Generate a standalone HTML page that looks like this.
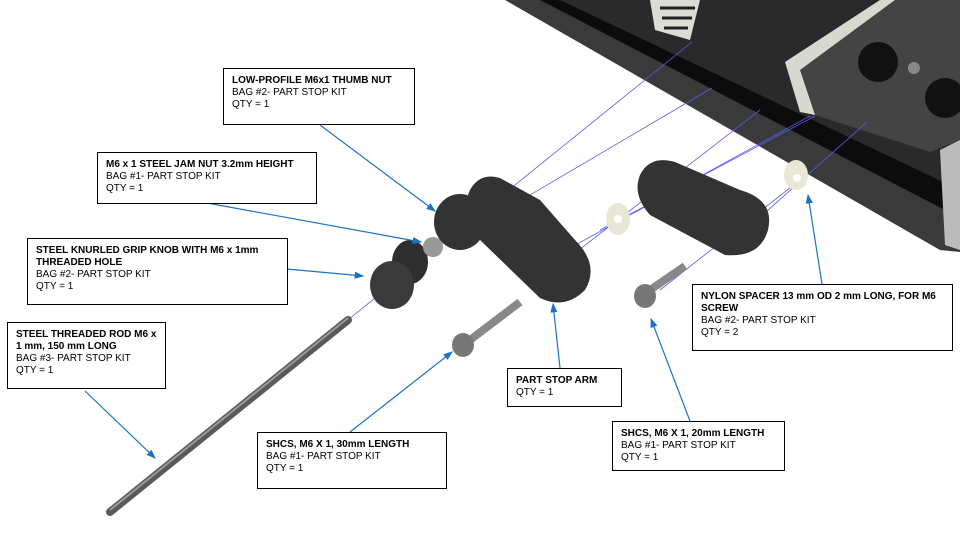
<!DOCTYPE html>
<html><head><meta charset="utf-8"><style>
body{margin:0;width:960px;height:540px;background:#fff;overflow:hidden;font-family:"Liberation Sans",sans-serif}
.b{position:absolute;border:1px solid #000;background:#fff;font-size:10px;line-height:12px;padding:6px 8px;box-sizing:border-box;color:#000}
.b b{font-weight:bold}
</style></head><body>
<svg width="960" height="540" style="position:absolute;left:0;top:0">
<defs><marker id="a" markerWidth="8" markerHeight="8" refX="7" refY="4" orient="auto"><path d="M0,1 L8,4 L0,7z" fill="#1a73c8"/></marker></defs>
<!-- machine -->
<polygon points="505,0 960,0 960,252 940,250 505,0" fill="#3a3a3a"/>
<polygon points="540,0 960,0 960,215 945,210" fill="#0c0c0c"/>
<polygon points="560,0 960,0 960,190 560,0" fill="#2a2a2a"/>
<polygon points="650,0 700,0 690,40 655,30" fill="#dcdcd4"/>
<path d="M660,8 L695,8 M662,18 L692,18 M664,28 L688,28" stroke="#222" stroke-width="3"/>
<polygon points="785,62 880,0 960,0 960,140 930,152 815,115" fill="#444"/>
<polygon points="785,62 880,0 895,0 800,70 815,115 800,112" fill="#d8d8d0"/>
<circle cx="878" cy="62" r="20" fill="#111"/><circle cx="945" cy="98" r="20" fill="#111"/><circle cx="914" cy="68" r="6" fill="#888"/>
<polygon points="940,150 960,140 960,250 945,245" fill="#bbb"/>
<!-- construction lines -->
<g stroke="#5a5af0" stroke-width="0.8">
<line x1="110" y1="512" x2="692" y2="42"/>
<line x1="445" y1="245" x2="712" y2="88"/>
<line x1="540" y1="280" x2="760" y2="110"/>
<line x1="570" y1="248" x2="810" y2="116"/>
<line x1="600" y1="230" x2="815" y2="116"/>
<line x1="740" y1="235" x2="867" y2="122"/>
<line x1="660" y1="290" x2="800" y2="180"/>
</g>
<!-- rod -->
<line x1="110" y1="512" x2="348" y2="320" stroke="#5a5a5a" stroke-width="8" stroke-linecap="round"/>
<line x1="110" y1="510" x2="348" y2="318" stroke="#999" stroke-width="2"/>
<!-- knob -->
<ellipse cx="410" cy="262" rx="18" ry="22" fill="#2e2e2e"/>
<ellipse cx="392" cy="285" rx="22" ry="24" fill="#3a3a3a"/>
<!-- jam nut -->
<ellipse cx="433" cy="247" rx="10" ry="10" fill="#999"/>
<!-- thumb nut -->
<ellipse cx="460" cy="222" rx="26" ry="28" fill="#333"/>
<!-- arm -->
<path d="M470,190 Q480,172 500,178 L540,200 L575,240 Q600,265 585,290 Q565,310 540,298 L480,240 Q460,210 470,190z" fill="#333"/>
<!-- washers -->
<ellipse cx="618" cy="219" rx="12" ry="16" fill="#e8e6d5"/><circle cx="618" cy="219" r="4" fill="#fff"/>
<ellipse cx="796" cy="175" rx="12" ry="15" fill="#e8e6d5"/><circle cx="797" cy="178" r="4" fill="#fff"/>
<!-- second arm -->
<path d="M640,175 Q650,155 675,162 L740,190 Q775,200 768,230 Q760,258 725,255 L650,215 Q632,195 640,175z" fill="#333"/>
<!-- screws -->
<line x1="470" y1="340" x2="520" y2="302" stroke="#888" stroke-width="8"/>
<ellipse cx="463" cy="345" rx="11" ry="12" fill="#777"/>
<line x1="650" y1="290" x2="685" y2="266" stroke="#888" stroke-width="8"/>
<ellipse cx="645" cy="296" rx="11" ry="12" fill="#777"/>
<!-- leaders -->
<g stroke="#1a73c8" stroke-width="1.2" marker-end="url(#a)" fill="none">
<line x1="320" y1="125" x2="435" y2="211"/>
<line x1="207" y1="203" x2="421" y2="242"/>
<line x1="287" y1="269" x2="363" y2="276"/>
<line x1="85" y1="391" x2="155" y2="458"/>
<line x1="350" y1="432" x2="452" y2="352"/>
<line x1="560" y1="368" x2="553" y2="304"/>
<line x1="690" y1="421" x2="651" y2="319"/>
<line x1="822" y1="284" x2="808" y2="195"/>
</g>
</svg>
<div class="b" style="left:223px;top:68px;width:192px;height:57px"><b>LOW-PROFILE M6x1 THUMB NUT</b><br>BAG #2- PART STOP KIT<br>QTY = 1</div>
<div class="b" style="left:97px;top:152px;width:220px;height:52px"><b>M6 x 1 STEEL JAM NUT 3.2mm HEIGHT</b><br>BAG #1- PART STOP KIT<br>QTY = 1</div>
<div class="b" style="left:27px;top:238px;width:261px;height:67px"><b>STEEL KNURLED GRIP KNOB WITH M6 x 1mm THREADED HOLE</b><br>BAG #2- PART STOP KIT<br>QTY = 1</div>
<div class="b" style="left:7px;top:322px;width:159px;height:67px"><b>STEEL THREADED ROD M6 x 1 mm, 150 mm LONG</b><br>BAG #3- PART STOP KIT<br>QTY = 1</div>
<div class="b" style="left:257px;top:432px;width:190px;height:57px"><b>SHCS, M6 X 1, 30mm LENGTH</b><br>BAG #1- PART STOP KIT<br>QTY = 1</div>
<div class="b" style="left:507px;top:368px;width:115px;height:39px"><b>PART STOP ARM</b><br>QTY = 1</div>
<div class="b" style="left:612px;top:421px;width:173px;height:50px"><b>SHCS, M6 X 1, 20mm LENGTH</b><br>BAG #1- PART STOP KIT<br>QTY = 1</div>
<div class="b" style="left:692px;top:284px;width:261px;height:67px"><b>NYLON SPACER 13 mm OD 2 mm LONG, FOR M6 SCREW</b><br>BAG #2- PART STOP KIT<br>QTY = 2</div>
</body></html>
